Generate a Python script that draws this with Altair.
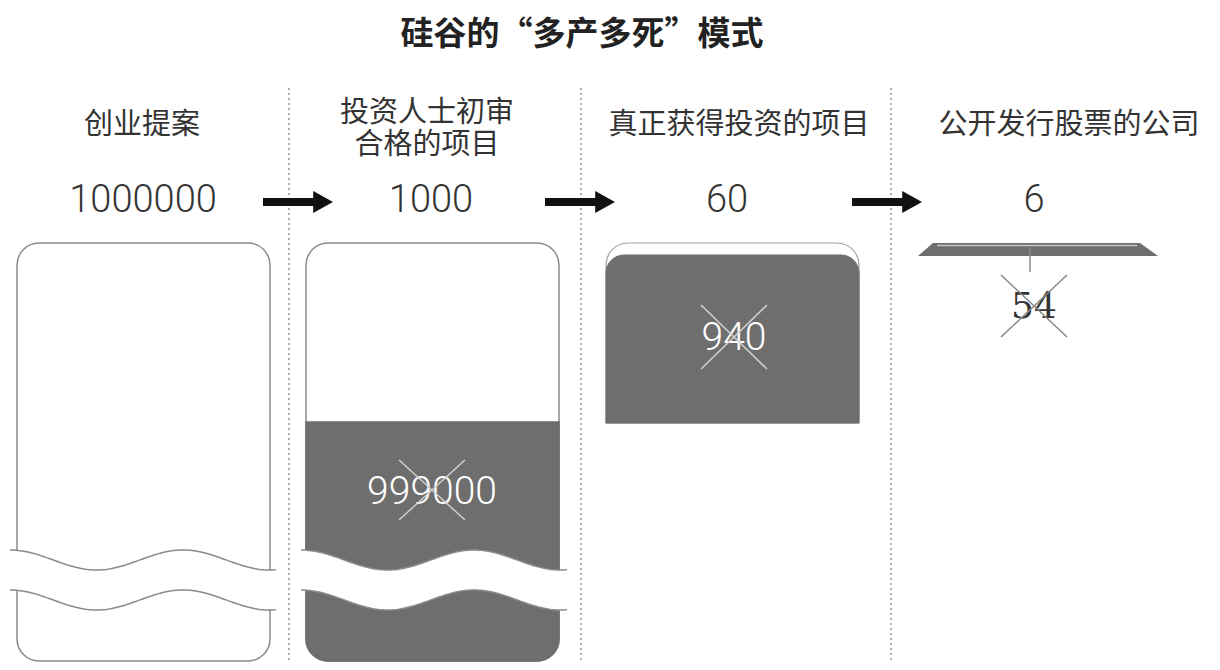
import altair as alt
import pandas as pd
import numpy as np

# ---------------- data ----------------
title_text = "硅谷的“多产多死”模式"
stage_names = ["创业提案", "投资人士初审\n合格的项目", "真正获得投资的项目", "公开发行股票的公司"]
stage_counts = [1000000, 1000, 60, 6]
dropped_counts = [999000, 940, 54]

# ---------------- layout (page pixel coordinates) ----------------
label_x = [142, 427, 739, 1069]
num_x = [143, 431, 727, 1034]
divider_x = [289, 581, 891]
arrow_x = [263, 545, 852]
DARK = "#6e6e6e"
LINE = "#8a8a8a"

xs = alt.Scale(domain=[8, 1212], nice=False, zero=False)
ys = alt.Scale(domain=[8, 662], nice=False, zero=False, reverse=True)


def enc(ch, x="x", y="y", x2=None, y2=None):
    e = dict(x=alt.X(f"{x}:Q", scale=xs, axis=None), y=alt.Y(f"{y}:Q", scale=ys, axis=None))
    if x2:
        e["x2"] = alt.X2(f"{x2}:Q")
    if y2:
        e["y2"] = alt.Y2(f"{y2}:Q")
    return ch.encode(**e)


layers = []

# dotted dividers
div_df = pd.DataFrame({"x": divider_x, "y": [88] * 3, "y2": [662] * 3})
layers.append(enc(alt.Chart(div_df).mark_rule(color="#9a9a9a", strokeWidth=1.6, strokeDash=[2, 3]), y2="y2"))

# outline boxes (stage 1 and 2)
box_df = pd.DataFrame({"x": [17, 306], "x2": [270, 559], "y": [243, 243], "y2": [661, 661]})
layers.append(enc(alt.Chart(box_df).mark_rect(fill="white", stroke=LINE, strokeWidth=1.5, cornerRadius=22),
                  x2="x2", y2="y2"))
# stage 3 box (rounded top only)
box3_df = pd.DataFrame({"x": [606], "x2": [859], "y": [243], "y2": [423]})
layers.append(enc(alt.Chart(box3_df).mark_rect(fill="white", stroke="#a0a0a0", strokeWidth=1.2,
                                                cornerRadiusTopLeft=22, cornerRadiusTopRight=22),
                  x2="x2", y2="y2"))

# dark fills: eliminated share
dark2_df = pd.DataFrame({"x": [306], "x2": [559], "y": [422], "y2": [661]})
layers.append(enc(alt.Chart(dark2_df).mark_rect(fill=DARK, stroke=DARK, strokeWidth=1.5,
                                                 cornerRadiusBottomLeft=22, cornerRadiusBottomRight=22),
                  x2="x2", y2="y2"))
dark3_df = pd.DataFrame({"x": [606], "x2": [859], "y": [255], "y2": [423]})
layers.append(enc(alt.Chart(dark3_df).mark_rect(fill=DARK, stroke=DARK, strokeWidth=1,
                                                 cornerRadiusTopLeft=18, cornerRadiusTopRight=18),
                  x2="x2", y2="y2"))

# stage 4 thin bar
bar_df = pd.DataFrame({"x": [918, 933, 1140, 1158], "y": [256, 243, 243, 256], "y2": [256] * 4})
layers.append(enc(alt.Chart(bar_df).mark_area(color=DARK, opacity=1), y2="y2"))
hl_df = pd.DataFrame({"x": [937], "x2": [1137], "y": [245.5]})
layers.append(enc(alt.Chart(hl_df).mark_rule(color="#c4c4c4", strokeWidth=1.5), x2="x2"))
tick_df = pd.DataFrame({"x": [1030], "y": [247], "y2": [272]})
layers.append(enc(alt.Chart(tick_df).mark_rule(color=LINE, strokeWidth=1.5), y2="y2"))

# axis-break waves
gap_rows, line_rows = [], []
for gi, x0 in enumerate([10, 301]):
    wx = np.arange(x0, x0 + 267, 2.0)
    wy = 560 - 10 * np.cos(2 * np.pi * (wx - x0) / 173)
    for a, b in zip(wx, wy):
        gap_rows.append({"g": gi, "x": a, "y": b, "y2": b + 40})
        line_rows.append({"g": f"{gi}u", "x": a, "y": b})
        line_rows.append({"g": f"{gi}l", "x": a, "y": b + 40})
gap_df = pd.DataFrame(gap_rows)
line_df = pd.DataFrame(line_rows)
layers.append(enc(alt.Chart(gap_df).mark_area(color="white", opacity=1), y2="y2").encode(detail="g:N"))
layers.append(enc(alt.Chart(line_df).mark_line(color=LINE, strokeWidth=1.5), ).encode(detail="g:N"))

# title
title_df = pd.DataFrame({"x": [582], "y": [35], "t": [title_text]})
layers.append(enc(alt.Chart(title_df).mark_text(font="Noto Sans CJK SC", fontSize=33, fontWeight="bold",
                                                 color="#222222", baseline="middle", align="center"))
              .encode(text="t:N"))

# stage labels (multi-line via line breaks; first line sits at y)
label_y = [125 if "\n" not in s else 113 for s in stage_names]
lab_df = pd.DataFrame({"x": label_x, "y": label_y, "t": stage_names})
layers.append(enc(alt.Chart(lab_df).mark_text(font="Noto Sans CJK SC", fontSize=29, color="#333333",
                                               lineBreak="\n", lineHeight=32,
                                               baseline="middle", align="center")).encode(text="t:N"))

# stage counts
num_df = pd.DataFrame({"x": num_x, "y": [201] * 4, "t": [str(v) for v in stage_counts]})
layers.append(enc(alt.Chart(num_df).mark_text(font="Roboto", fontWeight=300, fontSize=38, color="#333333",
                                               baseline="middle", align="center")).encode(text="t:N"))

# arrows
shaft_df = pd.DataFrame({"x": arrow_x, "x2": [a + 53 for a in arrow_x], "y": [202] * 3})
layers.append(enc(alt.Chart(shaft_df).mark_rule(color="#111111", strokeWidth=8), x2="x2"))
head_df = pd.DataFrame({"x": [a + 59 for a in arrow_x], "y": [202] * 3})
layers.append(enc(alt.Chart(head_df).mark_point(shape="M-0.8,-1L1,0L-0.8,1Z", filled=True, size=484,
                                                 color="#111111", opacity=1)))

# eliminated counts (crossed out)
drop_x = [432, 734, 1034]
drop_y = [492, 338, 307]
drop_white = pd.DataFrame({"x": drop_x[:2], "y": drop_y[:2], "t": [str(v) for v in dropped_counts[:2]]})
layers.append(enc(alt.Chart(drop_white).mark_text(font="Roboto", fontWeight=300, fontSize=39, color="white",
                                                   baseline="middle", align="center")).encode(text="t:N"))
drop_dark = pd.DataFrame({"x": drop_x[2:], "y": drop_y[2:], "t": [str(v) for v in dropped_counts[2:]]})
layers.append(enc(alt.Chart(drop_dark).mark_text(font="DejaVu Serif", fontSize=36,
                                                  color="#333333", baseline="middle", align="center"))
              .encode(text="t:N"))

cross_half = [(33, 30), (33, 32), (33, 31)]
cross_rows = []
for i, (hx, hy) in enumerate(cross_half):
    cx, cy = drop_x[i], drop_y[i] - (1 if i else 2)
    col = "#d0d0d0" if i < 2 else "#8a8a8a"
    cross_rows.append({"x": cx - hx, "y": cy - hy, "x2": cx + hx, "y2": cy + hy, "c": col})
    cross_rows.append({"x": cx + hx, "y": cy - hy, "x2": cx - hx, "y2": cy + hy, "c": col})
cross_df = pd.DataFrame(cross_rows)
layers.append(enc(alt.Chart(cross_df).mark_rule(strokeWidth=1.5), x2="x2", y2="y2")
              .encode(color=alt.Color("c:N", scale=None)))

chart = alt.layer(*layers).properties(
    width=1204, height=654, padding=0, autosize=alt.AutoSizeParams(type="none"), background="white"
).configure_view(stroke=None)

chart.save("out.html", embed_options={"renderer": "svg", "actions": False})
